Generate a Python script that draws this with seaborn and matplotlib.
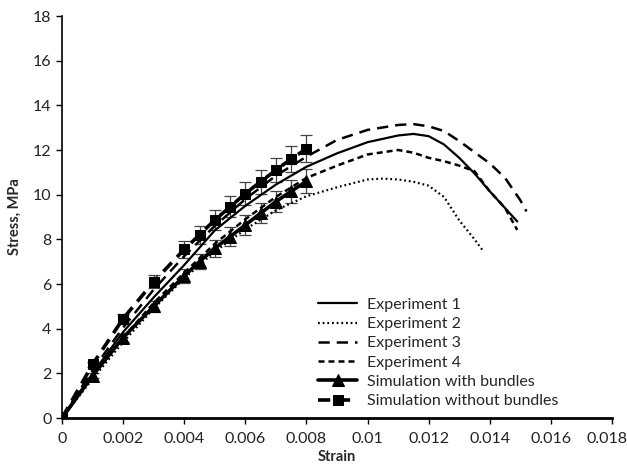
import matplotlib
matplotlib.use("Agg")
import matplotlib.pyplot as plt
import matplotlib.transforms as mtransforms
import seaborn as sns
import pandas as pd

# ---- data ----
exp1_strain = [0, 0.001, 0.002, 0.003, 0.004, 0.005, 0.006, 0.007, 0.008, 0.009, 0.010, 0.011, 0.0115, 0.012, 0.0125, 0.013, 0.0135, 0.014, 0.0145, 0.0149]
exp1_stress = [0, 2.0, 3.85, 5.4, 6.85, 8.4, 9.5, 10.45, 11.25, 11.85, 12.35, 12.65, 12.72, 12.62, 12.25, 11.65, 10.95, 10.15, 9.4, 8.8]

exp2_strain = [0, 0.001, 0.002, 0.003, 0.004, 0.005, 0.006, 0.007, 0.008, 0.009, 0.010, 0.0105, 0.011, 0.0115, 0.012, 0.0125, 0.013, 0.0135, 0.0138]
exp2_stress = [0, 1.75, 3.4, 4.9, 6.25, 7.45, 8.45, 9.3, 9.93, 10.33, 10.68, 10.72, 10.68, 10.58, 10.4, 9.9, 8.85, 8.0, 7.45]

exp3_strain = [0, 0.001, 0.002, 0.003, 0.004, 0.005, 0.006, 0.007, 0.008, 0.009, 0.010, 0.011, 0.0115, 0.012, 0.0125, 0.013, 0.0135, 0.014, 0.0145, 0.015, 0.0152]
exp3_stress = [0, 2.15, 4.05, 5.75, 7.25, 8.6, 9.8, 10.85, 11.7, 12.45, 12.9, 13.12, 13.16, 13.06, 12.85, 12.4, 11.9, 11.4, 10.75, 9.75, 9.25]

exp4_strain = [0, 0.001, 0.002, 0.003, 0.004, 0.005, 0.006, 0.007, 0.008, 0.009, 0.010, 0.011, 0.0115, 0.012, 0.0125, 0.013, 0.0135, 0.014, 0.0145, 0.0149]
exp4_stress = [0, 1.85, 3.6, 5.15, 6.5, 7.8, 8.9, 9.9, 10.75, 11.3, 11.8, 12.0, 11.88, 11.65, 11.5, 11.3, 11.05, 10.15, 9.4, 8.42]

sim_strain = [0, 0.001, 0.002, 0.003, 0.004, 0.0045, 0.005, 0.0055, 0.006, 0.0065, 0.007, 0.0075, 0.008]
simb_stress = [0, 1.9, 3.6, 5.0, 6.36, 7.0, 7.6, 8.12, 8.64, 9.17, 9.69, 10.15, 10.6]
simb_err = [0, 0.1, 0.18, 0.25, 0.32, 0.35, 0.38, 0.41, 0.43, 0.46, 0.48, 0.51, 0.53]
simn_stress = [0, 2.4, 4.45, 6.1, 7.55, 8.2, 8.87, 9.45, 10.05, 10.58, 11.1, 11.6, 12.05]
simn_err = [0, 0.12, 0.22, 0.3, 0.38, 0.41, 0.44, 0.47, 0.5, 0.53, 0.55, 0.58, 0.6]

x_ticks = [0, 0.002, 0.004, 0.006, 0.008, 0.01, 0.012, 0.014, 0.016, 0.018]
x_tick_labels = ["0", "0.002", "0.004", "0.006", "0.008", "0.01", "0.012", "0.014", "0.016", "0.018"]
y_ticks = [0, 2, 4, 6, 8, 10, 12, 14, 16, 18]

sns.set_theme(style="ticks")
plt.rcParams["font.family"] = ["Lato", "DejaVu Sans"]

fig = plt.figure(figsize=(6.27, 4.65), dpi=100)
ax = fig.add_axes([62 / 627, 1 - 418 / 465, 550 / 627, 402 / 465])

def line(xs, ys, label, **kw):
    df = pd.DataFrame({"Strain": xs, "Stress": ys})
    sns.lineplot(data=df, x="Strain", y="Stress", ax=ax, sort=False, estimator=None,
                 color="black", label=label, **kw)

line(exp1_strain, exp1_stress, "Experiment 1", linewidth=1.6)
line(exp2_strain, exp2_stress, "Experiment 2", linewidth=1.6, dashes=(0.8, 1.3))
line(exp3_strain, exp3_stress, "Experiment 3", linewidth=1.8, dashes=(4.5, 2.8))
line(exp4_strain, exp4_stress, "Experiment 4", linewidth=1.8, dashes=(2.4, 1.6))

ax.errorbar(sim_strain, simb_stress, yerr=simb_err, fmt="none", ecolor="#444444",
            elinewidth=0.9, capsize=4, capthick=0.9, zorder=1)
ax.errorbar(sim_strain, simn_stress, yerr=simn_err, fmt="none", ecolor="#444444",
            elinewidth=0.9, capsize=4, capthick=0.9, zorder=1)

line(sim_strain, simb_stress, "Simulation with bundles", linewidth=2.6,
     marker="^", markersize=8, markeredgecolor="black", markerfacecolor="black")
line(sim_strain, simn_stress, "Simulation without bundles", linewidth=2.6,
     dashes=(3.4, 2.1), marker="s", markersize=7.5, markeredgecolor="black",
     markerfacecolor="black")

ax.set_xlim(0, 0.018)
ax.set_ylim(0, 18)
ax.set_xticks(x_ticks)
ax.set_xticklabels(x_tick_labels)
ax.set_yticks(y_ticks)
ax.tick_params(axis="both", direction="out", length=4, width=1, colors="black",
               labelsize=11.5, labelcolor="#222222")
ax.tick_params(axis="x", pad=6)
for s in ["top", "right"]:
    ax.spines[s].set_visible(False)
ax.spines["left"].set_linewidth(1.2)
ax.spines["bottom"].set_linewidth(2.0)
ax.spines["left"].set_color("black")
ax.spines["bottom"].set_color("black")

# keep the last x tick label inside the canvas
last = ax.get_xticklabels()[-1]
last.set_transform(last.get_transform() + mtransforms.ScaledTranslation(-5 / 100, 0, fig.dpi_scale_trans))

ax.set_xlabel("Strain", fontsize=10.5, fontweight="bold", labelpad=3)
ax.set_ylabel("Stress, MPa", fontsize=10.5, fontweight="bold", labelpad=8)

leg = ax.legend(loc="upper left", bbox_to_anchor=(0.44, 0.335), frameon=False,
                fontsize=11.5, handlelength=2.4, labelspacing=0.32, handletextpad=0.65)

fig.savefig("out.png", dpi=100, facecolor="white")
